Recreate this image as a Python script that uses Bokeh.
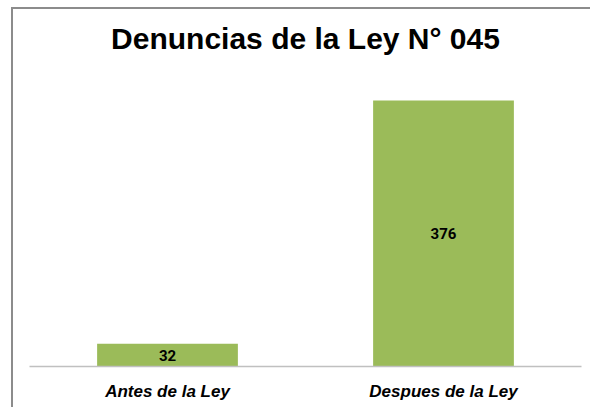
from bokeh.plotting import figure
from bokeh.models import ColumnDataSource, Range1d, FactorRange, Title, LabelSet
from bokeh.core.properties import value
from bokeh.embed import file_html
from bokeh.resources import INLINE

categories = ["Antes de la Ley", "Despues de la Ley"]
values = [32, 376]
labels = ["32", "376"]
title_text = "Denuncias de la Ley N° 045"

src = ColumnDataSource(dict(cat=categories, val=values, half=[v / 2 for v in values], lab=labels))

line_bg = ("linear-gradient(#8c8c8c, #8c8c8c) 11px 7px / 2px 100% no-repeat, "
           "linear-gradient(#8c8c8c, #8c8c8c) 11px 7px / 100% 2px no-repeat")

p = figure(width=590, height=407, x_range=FactorRange(*categories), y_range=Range1d(0, 400),
           output_backend="svg", toolbar_location=None,
           min_border_left=29, min_border_right=9, min_border_top=83, min_border_bottom=41,
           styles={"background": line_bg})

p.vbar(x="cat", top="val", width=0.51, source=src, fill_color="#9BBB59", line_color=None)

p.add_layout(LabelSet(x="cat", y="half", text="lab", source=src, text_align="center",
                      text_baseline="middle", text_font=value("Roboto"),
                      text_font_style="bold", text_font_size="15px", text_color="#000000"))

p.yaxis.visible = False
p.grid.visible = False
p.outline_line_color = None
p.background_fill_alpha = 0
p.border_fill_alpha = 0

ax = p.xaxis[0]
ax.axis_line_color = "#c0c0c0"
ax.axis_line_width = 1.5
ax.major_tick_line_color = None
ax.minor_tick_line_color = None
ax.major_tick_out = 0
ax.major_tick_in = 0
ax.major_label_standoff = 15
ax.major_label_text_font = "Liberation Sans"
ax.major_label_text_font_style = "bold italic"
ax.major_label_text_font_size = "17px"
ax.major_label_text_color = "#000000"

spacer = Title(text=" ", text_font_size="11px")
p.add_layout(spacer, "above")
t = Title(text=title_text, align="center", text_font="Liberation Sans",
          text_font_style="bold", text_font_size="30px", text_color="#000000")
p.add_layout(t, "above")

open("out.html", "w").write(file_html(p, INLINE))
